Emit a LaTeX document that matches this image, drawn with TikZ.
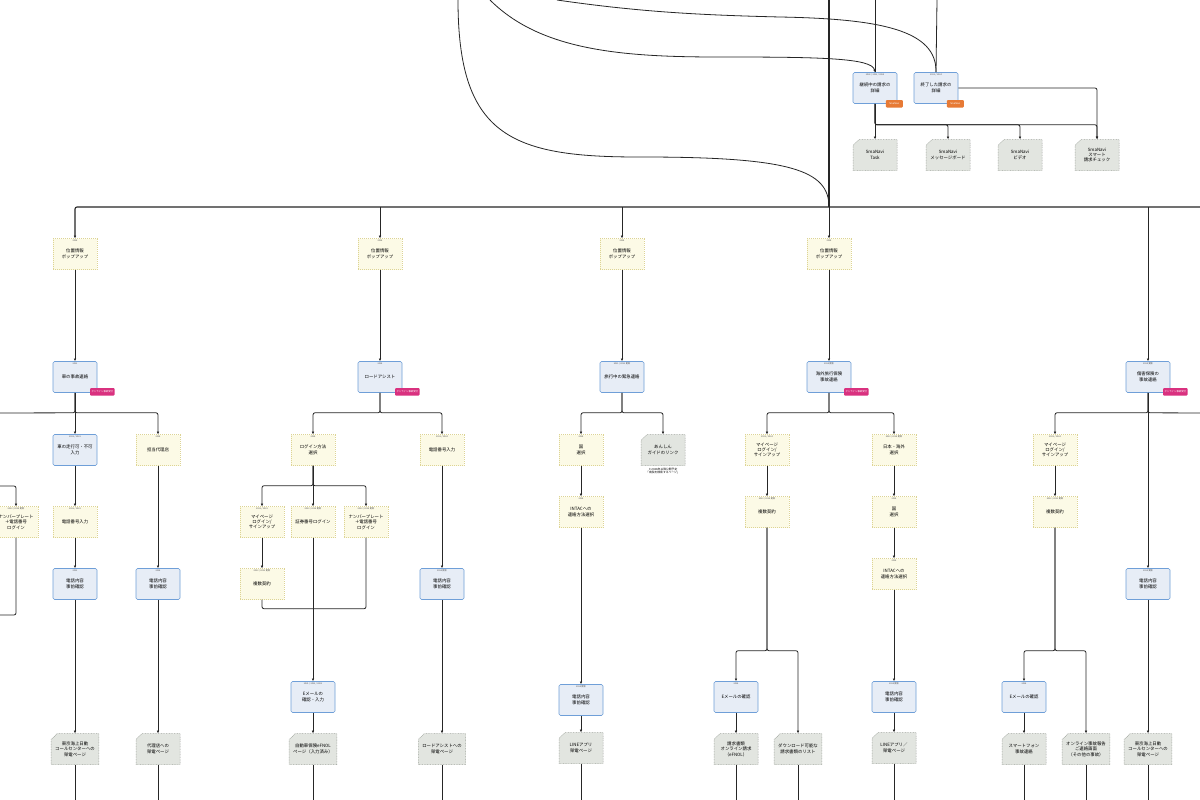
\documentclass[tikz,border=0pt]{standalone}
\usepackage{fontspec}
\setmainfont{Noto Sans CJK JP}
\usetikzlibrary{arrows.meta,shapes.misc}

\definecolor{scrfill}{HTML}{E7EDF6}
\definecolor{scrline}{HTML}{6F9FD8}
\definecolor{popfill}{HTML}{FCFAE6}
\definecolor{popline}{HTML}{DDD494}
\definecolor{pagefill}{HTML}{E2E5E0}
\definecolor{pageline}{HTML}{9EA39C}
\definecolor{badgepink}{HTML}{D9317F}
\definecolor{badgeorange}{HTML}{E77A35}

\tikzset{
  box/.style={minimum width=44pt,minimum height=31pt,align=center,inner sep=1pt,
    font=\fontsize{4.4}{5.4}\selectfont},
  scrbox/.style={box,rectangle,rounded corners=1.5pt,draw=scrline,fill=scrfill,line width=.6pt},
  popbox/.style={box,rectangle,draw=popline,fill=popfill,line width=.45pt,dash pattern=on 1pt off 1pt},
  pagebox/.style={box,chamfered rectangle,chamfered rectangle corners=north west,
    chamfered rectangle xsep=3pt,chamfered rectangle ysep=3pt,
    draw=pageline,fill=pagefill,line width=.5pt,dash pattern=on .8pt off .8pt},
  hdr/.style={font=\fontsize{2.2}{2.6}\selectfont,text=black!70,inner sep=1.6pt},
  badge/.style={font=\fontsize{2.4}{2.8}\selectfont,text=white,rounded corners=1pt,
    inner xsep=1.5pt,inner ysep=1pt,minimum height=7.5pt},
  conn/.style={draw=black!85,line width=.8pt,rounded corners=2pt},
  arr/.style={conn,-{Latex[length=2.6pt,width=2.6pt]}},
}

\begin{document}
\begin{tikzpicture}[x=1pt,y=-1pt]
\clip (0,0) rectangle (1200,800);
\fill[white] (0,0) rectangle (1200,800);

\coordinate (top) at (829,0);
\coordinate (hub) at (829,207);
\coordinate (busR) at (1210,207);
\coordinate (bot) at (0,810);

% SmaNavi
\node[scrbox,label={[hdr,anchor=north]north:2022 / 2023 / 2024}] (a1) at (875,88) {継続中の請求の\\詳細};
\node[scrbox,label={[hdr,anchor=north]north:2023 / 2024}] (a2) at (936,88) {終了した請求の\\詳細};
\node[badge,fill=badgeorange,minimum width=17pt] (a1tag) at ([xshift=-3pt,yshift=0pt]a1.south east) {SmaNavi};
\node[badge,fill=badgeorange,minimum width=17pt] (a2tag) at ([xshift=-3pt,yshift=0pt]a2.south east) {SmaNavi};
\node[pagebox] (t1) at (875,155) {SmaNavi\\Task};
\node[pagebox] (t2) at (948,155) {SmaNavi\\メッセージボード};
\node[pagebox] (t3) at (1020,155) {SmaNavi\\ビデオ};
\node[pagebox] (t4) at (1097,155) {SmaNavi\\スマート\\請求チェック};

% column 1
\node[popbox,label={[hdr,anchor=north]north:2024}] (p1) at (75,254) {位置情報\\ポップアップ};
\node[scrbox,label={[hdr,anchor=north]north:2021}] (b1) at (75,377) {車の事故連絡};
\node[scrbox,label={[hdr,anchor=north]north:2022 / 2023}] (c1a) at (75,450) {車の走行可・不可\\入力};
\node[popbox,label={[hdr,anchor=north]north:2024}] (c1b) at (158,450) {担当代理店};
\node[popbox,label={[hdr,anchor=north]north:2023 / 2024 更新}] (c1x) at (16,522) {ナンバープレート\\＋電話番号\\ログイン};
\node[popbox,label={[hdr,anchor=north]north:2022 / 2023}] (d1) at (75,522) {電話番号入力};
\node[scrbox,label={[hdr,anchor=north]north:2023}] (e1) at (75,584) {電話内容\\事前確認};
\node[scrbox,label={[hdr,anchor=north]north:2024}] (e1b) at (158,584) {電話内容\\事前確認};
\node[pagebox] (f1) at (75,749) {東京海上日動\\コールセンターへの\\架電ページ};
\node[pagebox] (f1b) at (158,749) {代理店への\\架電ページ};

% column 2
\node[popbox,label={[hdr,anchor=north]north:2024}] (p2) at (380,254) {位置情報\\ポップアップ};
\node[scrbox,label={[hdr,anchor=north]north:2024}] (b2) at (380,377) {ロードアシスト};
\node[popbox,label={[hdr,anchor=north]north:2024}] (c2a) at (313,450) {ログイン方法\\選択};
\node[popbox,label={[hdr,anchor=north]north:2023 / 2024}] (c2b) at (442,450) {電話番号入力};
\node[popbox,label={[hdr,anchor=north]north:2022 / 2023}] (d2a) at (262,522) {マイページ\\ログイン/\\サインアップ};
\node[popbox,label={[hdr,anchor=north]north:2023 / 2024 更新}] (d2b) at (313,522) {証券番号ログイン};
\node[popbox,label={[hdr,anchor=north]north:2023 / 2024 更新}] (d2c) at (366,522) {ナンバープレート\\＋電話番号\\ログイン};
\node[popbox,label={[hdr,anchor=north]north:2022 / 2023 更新}] (d2d) at (262,584) {複数契約};
\node[scrbox,label={[hdr,anchor=north]north:2021 / 2022 / 2023}] (e2) at (313,697) {Eメールの\\確認・入力};
\node[pagebox] (f2) at (313,749) {自動車保険eFNOL\\ページ（入力済み）};
\node[scrbox,label={[hdr,anchor=north]north:2024 更新}] (e2b) at (442,584) {電話内容\\事前確認};
\node[pagebox] (f2b) at (442,749) {ロードアシストへの\\架電ページ};

% column 3
\node[popbox,label={[hdr,anchor=north]north:2024}] (p3) at (622,254) {位置情報\\ポップアップ};
\node[scrbox,label={[hdr,anchor=north]north:2021 / 2022 更新}] (b3) at (622,377) {旅行中の緊急連絡};
\node[popbox,label={[hdr,anchor=north]north:2024}] (c3a) at (581,450) {国\\選択};
\node[pagebox] (c3b) at (663,450) {あんしん\\ガイドのリンク};
\node[font=\fontsize{2.8}{3.4}\selectfont,align=center,inner sep=0pt] (cap3) at (663,471) {＊2026年以降公開予定\\「病院を検索するページ」};
\node[popbox,label={[hdr,anchor=north]north:2024}] (d3) at (581,512) {INTACへの\\連絡方法選択};
\node[scrbox,label={[hdr,anchor=north]north:2024 更新}] (e3) at (581,700) {電話内容\\事前確認};
\node[pagebox] (f3) at (581,748) {LINEアプリ\\架電ページ};

% column 4
\node[popbox,label={[hdr,anchor=north]north:2024}] (p4) at (829,254) {位置情報\\ポップアップ};
\node[scrbox,label={[hdr,anchor=north]north:2024 更新}] (b4) at (829,377) {海外旅行保険\\事故連絡};
\node[popbox,label={[hdr,anchor=north]north:2023 / 2024}] (c4a) at (767,450) {マイページ\\ログイン/\\サインアップ};
\node[popbox,label={[hdr,anchor=north]north:2023 / 2024 更新}] (c4b) at (894,450) {日本・海外\\選択};
\node[popbox,label={[hdr,anchor=north]north:2023 / 2024 更新}] (d4a) at (767,512) {複数契約};
\node[popbox,label={[hdr,anchor=north]north:2024}] (d4b) at (894,512) {国\\選択};
\node[popbox,label={[hdr,anchor=north]north:2024}] (e4b) at (894,574) {INTACへの\\連絡方法選択};
\node[scrbox,label={[hdr,anchor=north]north:2024 更新}] (g4b) at (894,697) {電話内容\\事前確認};
\node[pagebox] (h4b) at (894,748) {LINEアプリ／\\架電ページ};
\node[scrbox,label={[hdr,anchor=north]north:2024}] (g4a) at (736,697) {Eメールの確認};
\node[pagebox] (h4a) at (736,749) {請求書類\\オンライン請求\\（eFNOL）};
\node[pagebox] (h4c) at (798,749) {ダウンロード可能な\\請求書類のリスト};

% column 5
\node[scrbox,label={[hdr,anchor=north]north:2024 更新}] (b5) at (1148,377) {傷害保険の\\事故連絡};
\node[popbox,label={[hdr,anchor=north]north:2023 / 2024}] (c5) at (1055,450) {マイページ\\ログイン/\\サインアップ};
\node[popbox,label={[hdr,anchor=north]north:2022 / 2023 更新}] (d5) at (1055,512) {複数契約};
\node[scrbox,label={[hdr,anchor=north]north:2024}] (g5) at (1024,697) {Eメールの確認};
\node[pagebox] (h5a) at (1024,749) {スマートフォン\\事故連絡};
\node[pagebox] (h5b) at (1086,749) {オンライン事故報告\\ご連絡画面\\（その他の事故）};
\node[scrbox,label={[hdr,anchor=north]north:2024 更新}] (e5) at (1148,584) {電話内容\\事前確認};
\node[pagebox] (f5) at (1148,749) {東京海上日動\\コールセンターへの\\架電ページ};

\foreach \b in {b1,b2,b4,b5}
  \node[badge,fill=badgepink] (\b tag) at ([xshift=5pt,yshift=1pt]\b.south east) {オンライン事故受付};

% links from above
\draw[conn,line width=1.3pt] (top) -- (hub);
\draw[conn] (458,0) .. controls (458,135) and (510,157) .. (640,157)
  .. controls (790,157) and (829,170) .. (hub);
\draw[arr] (490,0) .. controls (540,50) and (620,57) .. (720,57)
  .. controls (820,57) and (872,58) .. (a1.north);
\draw[conn] (557,0) .. controls (640,12) and (700,15) .. (780,17)
  .. controls (880,19) and (937,30) .. (a2.north);
\draw[conn] (875,0) -- (a1.north);
\draw[conn] (937,0) -- (a2.north);
\draw[arr] (a1) -- (t1);
\foreach \n in {t2,t3,t4}
  \draw[arr] (a1.south) -- ++(0,21) -| (\n.north);
\draw[arr] (a2.east) -| (t4.north);

% bus
\draw[arr,line width=1.1pt] (busR) -| (p1.north);
\foreach \n in {p2,p3,p4,b5}
  \draw[arr] (\n.north |- hub) -- (\n.north);

% splits
\foreach \a/\b in {b1/c1b,b2/c2a,b2/c2b,b3/c3a,b3/c3b,b4/c4a,b4/c4b,b5/c5,c2a/d2a,c2a/d2c}
  \draw[arr] (\a.south) -- ++(0,20) -| (\b.north);
\coordinate (w1) at (-10,413);
\coordinate (w2) at (-10,486);
\coordinate (w3) at (-10,615);
\coordinate (e5r) at (1210,413);
\draw[conn] (b1.south) -- ++(0,20) -- (w1);
\draw[arr] (w2) -| (c1x.north);
\draw[conn] (c1x.south) |- (w3);
\draw[conn] (b5.south) -- ++(0,20) -- (e5r);
\draw[conn] (d2d.south) -- ++(0,9) -| (d2c.south);
\foreach \a/\b in {d4a/g4a,d4a/h4c,d5/g5,d5/h5b}
  \draw[arr] (\a.south) -- ++(0,123) -| (\b.north);

% straight links
\foreach \a/\b in {p1/b1,b1/c1a,c1a/d1,d1/e1,e1/f1,c1b/e1b,e1b/f1b,
  p2/b2,c2a/d2b,d2a/d2d,d2b/e2,e2/f2,c2b/e2b,e2b/f2b,
  p3/b3,c3a/d3,d3/e3,e3/f3,
  p4/b4,c4a/d4a,c4b/d4b,d4b/e4b,e4b/g4b,g4b/h4b,g4a/h4a,
  c5/d5,g5/h5a,b5/e5,e5/f5}
  \draw[arr] (\a) -- (\b);
\foreach \n in {f1,f1b,f2,f2b,f3,h4a,h4b,h4c,h5a,h5b,f5}
  \draw[conn] (\n.south) -- (\n |- bot);
\end{tikzpicture}
\end{document}
